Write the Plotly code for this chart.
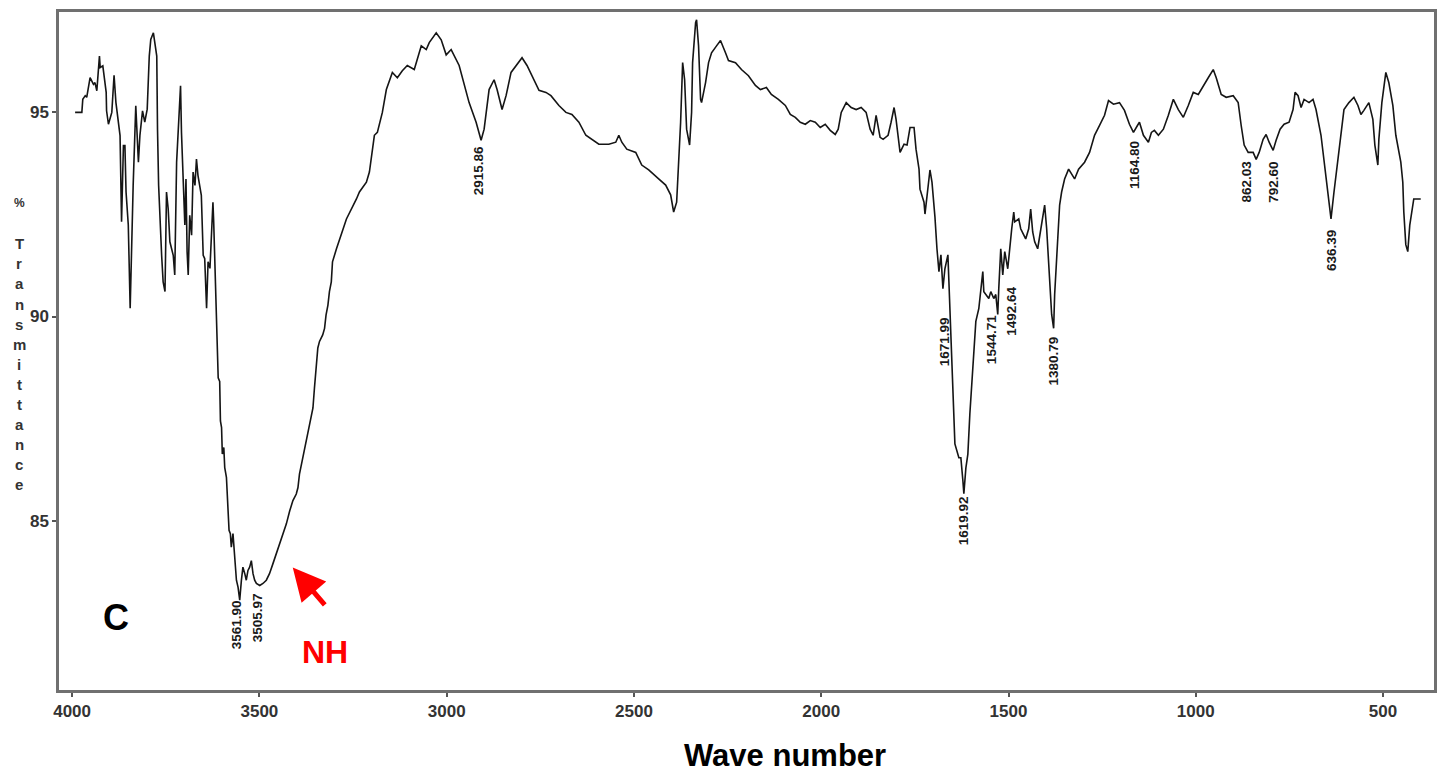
import plotly.graph_objects as go

# ---- data: FT-IR spectrum (wavenumber, cm-1 ; % transmittance) ----
wavenumber = [
    3992, 3974, 3971.5, 3965, 3961, 3952, 3943, 3939, 3934, 3927, 3925, 3918, 3909, 3908, 3903,
    3894, 3888, 3883, 3872, 3869.5, 3868, 3863, 3859, 3856, 3850, 3845, 3841, 3837, 3830, 3823,
    3819, 3812, 3806, 3799.5, 3794, 3790, 3783, 3779, 3774, 3772, 3769, 3761, 3757, 3752, 3748,
    3743.5, 3739, 3730, 3726, 3721, 3717, 3710.5, 3708, 3703, 3699, 3696, 3693, 3690, 3686, 3681,
    3677, 3672, 3668, 3664, 3659, 3655, 3650, 3646, 3641, 3637, 3632, 3628, 3624, 3622, 3616.5,
    3615, 3613, 3610, 3606, 3604, 3601, 3599, 3595, 3592.5, 3588, 3584, 3581, 3577.5, 3575, 3570.5,
    3566, 3561.3, 3557, 3552.5, 3548, 3544, 3539, 3535, 3530.5, 3526, 3521.5, 3517, 3512.6, 3508,
    3499, 3490.5, 3481.5, 3473, 3464, 3455, 3446, 3437, 3428, 3419, 3410.5, 3401.5, 3397, 3393,
    3384, 3375, 3366, 3357, 3353, 3348, 3344, 3339.5, 3331, 3326, 3322, 3317, 3313, 3308, 3304.8,
    3294.2, 3267.6, 3240.9, 3232.9, 3214.3, 3206.3, 3193.0, 3185.0, 3171.7, 3161.0, 3145.0, 3131.7,
    3118.4, 3105.1, 3086.5, 3067.8, 3054.5, 3046.5, 3027.9, 3014.6, 3001.3, 2988.0, 2966.7, 2940.1,
    2921.4, 2908.1, 2900.0, 2886.7, 2873.4, 2865.4, 2852.1, 2841.4, 2828.1, 2814.8, 2798.8, 2785.5,
    2772.1, 2753.5, 2734.9, 2721.6, 2700.3, 2681.6, 2665.6, 2647.0, 2628.4, 2612.4, 2593.7, 2567.1,
    2548.5, 2540.4, 2532.4, 2519.1, 2495.2, 2479.2, 2460.6, 2434.0, 2415.3, 2402.0, 2394.0, 2386.0,
    2375.4, 2370.0, 2364.7, 2359.4, 2351.4, 2346.1, 2343.4, 2335.4, 2332.8, 2327.5, 2322.1, 2319.5,
    2308.8, 2300.8, 2292.8, 2279.5, 2268.9, 2255.6, 2247.6, 2228.9, 2213.0, 2194.3, 2175.7, 2162.4,
    2146.4, 2133.1, 2114.4, 2095.8, 2082.5, 2069.2, 2055.9, 2042.5, 2029.2, 2015.9, 2002.6, 1989.3,
    1976.0, 1962.6, 1954.6, 1946.6, 1933.3, 1920.0, 1906.7, 1893.4, 1880.1, 1869.4, 1861.4, 1853.5,
    1842.8, 1834.8, 1821.5, 1813.5, 1805.5, 1800.2, 1789.5, 1778.9, 1770.9, 1762.9, 1752.2, 1746.9,
    1738.9, 1736.3, 1725.6, 1723.0, 1715.0, 1709.7, 1704.3, 1699.0, 1696.4, 1691.0, 1685.7, 1680.4,
    1675.1, 1669.8, 1661.8, 1659.1, 1656.5, 1651.1, 1645.8, 1643.1, 1632.5, 1627.2, 1621.8, 1619.2,
    1613.8, 1608.5, 1603.2, 1592.5, 1587.2, 1579.2, 1573.9, 1568.6, 1565.9, 1560.6, 1552.6, 1547.3,
    1539.3, 1534.0, 1528.7, 1526.0, 1520.7, 1515.3, 1510.0, 1502.0, 1496.7, 1491.4, 1486.0, 1483.4,
    1472.7, 1467.4, 1459.4, 1454.1, 1446.1, 1440.8, 1435.4, 1430.1, 1422.1, 1416.8, 1408.8, 1403.5,
    1398.1, 1392.8, 1390.1, 1384.8, 1379.5, 1376.8, 1371.5, 1366.2, 1363.5, 1358.2, 1350.2, 1339.5,
    1331.5, 1323.5, 1312.9, 1296.9, 1283.6, 1270.3, 1256.9, 1243.6, 1233.0, 1219.7, 1203.7, 1190.4,
    1177.1, 1166.4, 1155.8, 1150.4, 1139.8, 1126.5, 1118.5, 1110.5, 1099.8, 1086.5, 1073.2, 1059.9,
    1046.6, 1033.3, 1020.0, 1006.7, 993.3, 980.0, 966.7, 953.4, 945.4, 932.1, 918.8, 900.1, 886.8,
    878.8, 870.8, 860.1, 846.8, 838.8, 830.8, 820.2, 812.2, 804.2, 793.5, 785.5, 774.9, 764.2, 750.9,
    740.3, 734.9, 726.9, 718.9, 710.9, 697.6, 687.0, 679.0, 665.7, 652.4, 639.0, 631.0, 617.7, 604.4,
    591.1, 577.8, 567.1, 559.1, 551.2, 537.9, 527.2, 521.9, 513.9, 511.2, 503.2, 492.6, 484.6, 473.9,
    465.9, 452.6, 447.3, 444.6, 439.3, 434.0, 428.7, 420.7, 418.0, 399.4,
]
transmittance = [
    95.00, 95.00, 95.32, 95.41, 95.37, 95.85, 95.69, 95.73, 95.53, 96.38, 96.10, 96.14, 95.49, 95.04, 94.71,
    95.00, 95.91, 95.24, 94.43, 93.05, 92.32, 94.19, 94.19, 93.05, 92.24, 90.20, 91.99, 93.21, 95.16, 93.78,
    94.43, 95.04, 94.76, 95.08, 96.38, 96.79, 96.95, 96.71, 96.38, 94.59, 93.21, 91.50, 90.85, 90.61, 93.05,
    92.64, 91.83, 91.50, 91.02, 93.78, 94.51, 95.65, 94.51, 93.29, 92.24, 93.37, 91.59, 91.02, 92.48, 91.99,
    93.54, 93.21, 93.86, 93.46, 93.21, 92.97, 91.50, 91.42, 90.20, 91.34, 91.18, 92.15, 92.80, 92.32, 90.37,
    89.88, 89.47, 88.50, 88.41, 87.44, 87.28, 86.63, 86.79, 86.30, 86.06, 85.16, 84.76, 84.68, 84.35, 84.68,
    84.19, 83.54, 83.37, 83.05, 83.54, 83.86, 83.70, 83.54, 83.78, 83.86, 84.02, 83.70, 83.54, 83.46,
    83.41, 83.46, 83.54, 83.70, 83.94, 84.19, 84.43, 84.68, 84.92, 85.24, 85.49, 85.65, 85.81, 86.14,
    86.54, 86.95, 87.36, 87.76, 88.25, 88.74, 89.23, 89.39, 89.55, 89.71, 90.04, 90.28, 90.61, 90.85, 91.34,
    91.66, 92.39, 92.88, 93.05, 93.29, 93.54, 94.44, 94.51, 95.00, 95.56, 95.98, 95.85,
    96.02, 96.15, 96.05, 96.63, 96.54, 96.71, 96.95, 96.78, 96.41, 96.54, 96.15, 95.24,
    94.76, 94.32, 94.59, 95.56, 95.80, 95.56, 95.07, 95.41, 95.98, 96.15, 96.34, 96.15,
    95.90, 95.54, 95.49, 95.41, 95.17, 95.00, 94.95, 94.76, 94.44, 94.34, 94.22, 94.22,
    94.27, 94.44, 94.27, 94.10, 94.02, 93.71, 93.59, 93.37, 93.22, 92.98, 92.56, 92.80,
    94.76, 96.22, 95.80, 94.59, 94.20, 95.00, 96.22, 97.20, 97.27, 96.63, 95.32, 95.24,
    95.73, 96.22, 96.46, 96.63, 96.76, 96.46, 96.27, 96.22, 96.05, 95.90, 95.66, 95.56,
    95.61, 95.44, 95.32, 95.17, 94.95, 94.88, 94.76, 94.71, 94.80, 94.76, 94.63, 94.71,
    94.56, 94.46, 94.59, 95.00, 95.24, 95.12, 95.07, 95.12, 95.00, 94.59, 94.44, 94.93,
    94.39, 94.34, 94.44, 94.76, 95.12, 94.83, 94.02, 94.22, 94.20, 94.63, 94.63, 94.10,
    93.61, 93.12, 92.80, 92.51, 93.10, 93.59, 93.29, 92.80, 92.44, 91.66, 91.10, 91.51,
    90.68, 91.17, 91.51, 90.85, 90.20, 89.22, 87.61, 86.88, 86.54, 86.54, 85.98, 85.66,
    86.29, 86.63, 87.61, 88.98, 89.88, 90.20, 90.68, 91.10, 90.61, 90.54, 90.44, 90.61,
    90.44, 90.54, 90.05, 90.68, 91.66, 91.02, 91.59, 91.17, 91.76, 92.15, 92.56, 92.32,
    92.39, 92.15, 92.00, 91.90, 92.15, 92.63, 92.07, 91.83, 91.66, 92.00, 92.49, 92.73,
    92.15, 91.34, 90.68, 90.05, 89.71, 90.54, 91.41, 92.32, 92.73, 93.05, 93.37, 93.61,
    93.49, 93.37, 93.61, 93.78, 94.02, 94.44, 94.68, 94.93, 95.29, 95.20, 95.24, 95.05,
    94.71, 94.51, 94.68, 94.76, 94.44, 94.27, 94.51, 94.56, 94.44, 94.59, 94.93, 95.32,
    95.07, 94.88, 95.17, 95.49, 95.44, 95.66, 95.85, 96.05, 95.85, 95.44, 95.37, 95.41, 95.24,
    94.68, 94.20, 94.02, 94.02, 93.85, 94.02, 94.34, 94.46, 94.27, 94.07, 94.32, 94.59, 94.71, 94.76,
    95.07, 95.49, 95.41, 95.12, 95.32, 95.24, 95.32, 95.07, 94.44, 93.37, 92.39, 93.05, 94.02, 95.07,
    95.24, 95.37, 95.17, 94.95, 95.05, 95.24, 94.83, 94.20, 93.71, 94.34, 95.24, 95.98, 95.73, 95.17,
    94.44, 93.78, 93.29, 92.56, 91.76, 91.59, 92.24, 92.80, 92.88, 92.88,
]

peak_labels = ["3561.90", "3505.97", "2915.86", "1671.99", "1619.92", "1544.71",
               "1492.64", "1380.79", "1164.80", "862.03", "792.60", "636.39"]

x_ticks = [4000, 3500, 3000, 2500, 2000, 1500, 1000, 500]
y_ticks = [85, 90, 95]

# ---- layout constants ----
W, H = 1446, 777
ML, MR, MT, MB = 59, 9, 9, 87
XR = [4035, 364]
YR = [80.85, 97.46]
FONT = "Liberation Sans, Arial, sans-serif"

fig = go.Figure()
fig.add_trace(go.Scatter(
    x=wavenumber, y=transmittance, mode="lines",
    line=dict(color="#151515", width=1.6), hoverinfo="skip", showlegend=False,
))

annotations = []

# peak labels (rotated), vertical placement for each label centre
label_y = [82.44, 82.61, 93.56, 89.37, 85.00, 89.44, 90.12, 88.90, 93.71, 93.32, 93.29, 91.63]
for lab, yy in zip(peak_labels, label_y):
    annotations.append(dict(
        x=float(lab), y=yy, xref="x", yref="y", text="<b>%s</b>" % lab, showarrow=False,
        textangle=-90, font=dict(family=FONT, size=13.5, color="#1a1a1a"),
        xanchor="center", yanchor="middle",
    ))


def paper_y(py):
    return (H - MB - py) / (H - MT - MB)


def paper_x(px):
    return (px - ML) / (W - ML - MR)


# vertical y-axis title: stacked letters
annotations.append(dict(x=paper_x(19), y=paper_y(201), xref="paper", yref="paper",
                        text="<b>%</b>", showarrow=False, xanchor="center", yanchor="middle",
                        font=dict(family=FONT, size=12, color="#333333")))
for i, ch in enumerate("Transmittance"):
    annotations.append(dict(x=paper_x(19), y=paper_y(242 + 20.1 * i), xref="paper", yref="paper",
                            text="<b>%s</b>" % ch, showarrow=False,
                            xanchor="center", yanchor="middle",
                            font=dict(family=FONT, size=15, color="#333333")))

# "C" panel letter
annotations.append(dict(x=paper_x(116), y=paper_y(617), xref="paper", yref="paper",
                        text="<b>C</b>", showarrow=False, xanchor="center", yanchor="middle",
                        font=dict(family=FONT, size=36, color="#000000")))
# NH label
annotations.append(dict(x=paper_x(326), y=paper_y(652), xref="paper", yref="paper",
                        text="<b>NH</b>", showarrow=False, xanchor="center", yanchor="middle",
                        font=dict(family=FONT, size=32, color="#ff0000")))
# red arrow
annotations.append(dict(x=3411, y=83.85, ax=3322, ay=82.90, xref="x", yref="y",
                        axref="x", ayref="y", text="", showarrow=True,
                        arrowhead=2, arrowsize=1.3, arrowwidth=5, arrowcolor="#ff0000"))
# x-axis title
annotations.append(dict(x=paper_x(787), y=paper_y(756), xref="paper", yref="paper",
                        text="<b>Wave number</b>", showarrow=False,
                        xanchor="center", yanchor="middle",
                        font=dict(family=FONT, size=31, color="#000000")))

axis_common = dict(
    showgrid=False, zeroline=False, showline=True, mirror=True,
    linecolor="#707070", linewidth=2.5, ticks="outside", ticklen=4, tickwidth=1.5,
    tickcolor="#555555",
    tickfont=dict(family=FONT, size=17, color="#333333", weight="bold"),
)

fig.update_layout(
    width=W, height=H,
    margin=dict(l=ML, r=MR, t=MT, b=MB),
    paper_bgcolor="white", plot_bgcolor="white",
    annotations=annotations,
    xaxis=dict(range=XR, tickvals=x_ticks, ticktext=[str(v) for v in x_ticks], **axis_common),
    yaxis=dict(range=YR, tickvals=y_ticks, ticktext=[str(v) for v in y_ticks], **axis_common),
)

fig.write_html("out.html", config={"displayModeBar": False},
               post_script="document.body.style.margin='0';document.body.style.overflow='hidden';")
